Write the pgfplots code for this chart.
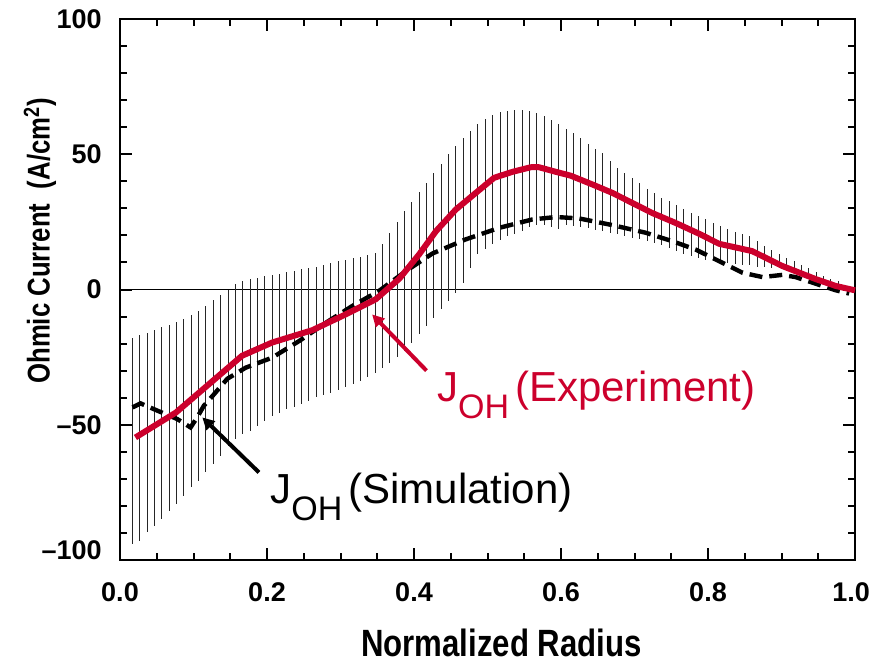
\documentclass[border=0pt]{standalone}
\usepackage{pgfplots}
\pgfplotsset{compat=1.18}
\usepackage{pgfplotstable}
\usetikzlibrary{arrows.meta}
\usepackage{fontspec}
\setmainfont{Liberation Sans}
\newfontfamily\condfont[FakeStretch=0.82]{Liberation Sans}
\definecolor{expred}{RGB}{204,0,44}

\pgfplotstableread{
x lo hi
0.017 -94 -18
0.027 -92.8 -17
0.037 -89.7 -16
0.047 -87.3 -15
0.057 -84.8 -14
0.067 -81.7 -13
0.077 -79.3 -12
0.087 -76.2 -11
0.097 -73.1 -9.5
0.107 -70.7 -8
0.117 -67.6 -6
0.127 -64.5 -4
0.137 -61.4 -2
0.147 -57.7 0
0.157 -55.3 2
0.167 -53.4 3
0.177 -52.2 3.8
0.187 -50.4 4.4
0.197 -48.5 4.9
0.207 -46.7 5.3
0.217 -45.5 5.8
0.227 -44.3 6.4
0.237 -43.3 6.9
0.247 -42.4 7.4
0.257 -41.1 7.9
0.267 -39.9 8.4
0.277 -39 9
0.287 -38.1 9.8
0.297 -37.2 10.5
0.307 -36.2 11
0.317 -35 11.6
0.327 -33.8 12.2
0.337 -32.3 12.8
0.347 -30.7 13.5
0.357 -29 17
0.367 -27 21
0.377 -25 25
0.387 -22.7 29
0.397 -19.6 32.5
0.407 -16.5 36
0.417 -13.4 39.5
0.427 -10.4 43
0.437 -7.3 46.5
0.447 -4.2 50
0.457 -1.2 53
0.467 2.5 56
0.477 8 58.5
0.487 13 61
0.497 15 63
0.507 16.8 64.6
0.517 18.3 65.5
0.527 19.7 66
0.537 20.7 66.5
0.547 21.6 66.3
0.557 23 66
0.567 24 65.2
0.577 24 64.3
0.587 23 62.8
0.597 22.3 61
0.607 23.8 59.5
0.617 23.6 57.9
0.627 23.2 56
0.637 22.7 53.8
0.647 22.1 52
0.657 21.5 50.5
0.667 21 47.5
0.677 20.4 45
0.687 19.8 43
0.697 19.2 41.3
0.707 18.6 39.3
0.717 18 37.3
0.727 17.3 35.7
0.737 16.4 33.9
0.747 15.3 32.7
0.757 14.4 31.2
0.767 13.3 29.6
0.777 12.3 28.3
0.787 11.5 27
0.797 11 25.9
0.807 10.5 24.7
0.817 10 23.4
0.827 9.7 22.2
0.837 9.4 21.3
0.847 9.2 20.5
0.857 9 19.7
0.867 8.5 17.8
0.877 8.2 16
0.887 8 14.5
0.897 7.8 13
0.907 7.4 11.8
0.917 7 10.5
0.927 6.2 9
0.937 5.5 7.8
0.947 4.6 6.4
0.957 3.6 5
0.967 2.6 4
0.977 1.8 3.1
}\errtab

\pgfplotstableread{
x y
0.021 -54.7
0.076 -45.5
0.121 -35
0.166 -24.5
0.207 -19.6
0.262 -15
0.307 -9.2
0.348 -3.6
0.380 4
0.407 13
0.430 21.6
0.457 29.6
0.484 35.7
0.509 41.3
0.534 43.5
0.559 45.2
0.570 45.2
0.593 43.5
0.613 42.1
0.643 38.8
0.670 35.7
0.697 32
0.724 28.3
0.756 24.6
0.788 20.6
0.815 16.9
0.860 14.2
0.901 8.7
0.947 3.8
0.974 1.3
1.000 -0.3
}\exptab

\pgfplotstableread{
x y
0.017 -43.6
0.028 -42.1
0.051 -44.8
0.078 -47.9
0.096 -51
0.105 -47.3
0.114 -43
0.128 -38.7
0.146 -33
0.171 -28.9
0.207 -25.2
0.244 -19
0.280 -12.3
0.316 -6.1
0.352 -0.6
0.389 6.8
0.425 13.3
0.470 18.5
0.516 22.8
0.561 25.9
0.593 26.8
0.624 26.3
0.670 23.8
0.715 21
0.751 17.9
0.783 14.8
0.815 10.5
0.847 6.2
0.874 4.6
0.901 5.4
0.919 4.6
0.947 2.1
0.974 -0.3
0.992 -1.5
}\simtab

\begin{document}
\begin{tikzpicture}
\begin{axis}[name=ax,
  scale only axis, width=367.5pt, height=270.5pt,
  xmin=0, xmax=1, ymin=-100, ymax=100,
  axis line style={line width=1.4pt},
  tick style={line width=1pt, black},
  major tick length=6pt, minor tick length=3.5pt,
  tick align=inside,
  xtick={0,0.2,0.4,0.6,0.8,1.0},
  xticklabels={0.0,0.2,0.4,0.6,0.8,\hspace*{-4pt}1.0},
  minor x tick num=3,
  ytick={-100,-50,0,50,100},
  yticklabels={\raisebox{10pt}{–100},–50,0,50,\raisebox{-3pt}{100}},
  minor y tick num=4,
  xticklabel style={font=\fontsize{13.5}{13.5}\selectfont\bfseries, anchor=base, inner sep=0pt, yshift=-20.5pt},
  yticklabel style={font=\fontsize{13.5}{13.5}\selectfont\bfseries, anchor=east, inner sep=0pt, xshift=-9pt},
  xlabel={Normalized Radius},
  xlabel style={font=\condfont\fontsize{19}{19}\selectfont\bfseries, at={(axis description cs:0.519,-0.179)}, anchor=base, inner sep=0pt},
  ylabel={Ohmic Current\ \ (A/cm\textsuperscript{2})},
  ylabel style={font=\condfont\fontsize{15.7}{15.7}\selectfont\bfseries, at={(axis description cs:-0.109,0.59)}, anchor=center, inner sep=0pt},
  clip=false,
]
\draw[line width=0.5pt, black] (axis cs:0,0) -- (axis cs:1,0);
\addplot[draw=none, no markers, forget plot,
  error bars/.cd, y dir=both, y explicit, error mark=none,
  error bar style={draw=black!85, solid, line width=0.5pt}]
  table[x=x, y expr={(\thisrow{lo}+\thisrow{hi})/2}, y error expr={(\thisrow{hi}-\thisrow{lo})/2}] {\errtab};
\addplot[black, line width=2.2pt, dash pattern=on 6.5pt off 3.5pt, mark=none] table[x=x,y=y] {\simtab};
\addplot[expred, line width=3pt, mark=none, line join=round] table[x=x,y=y] {\exptab};
\draw[expred, line width=2pt, -{Triangle[length=6pt,width=6pt]}] (axis cs:0.417,-30) -- (axis cs:0.343,-9.2);
\draw[black, line width=2pt, -{Triangle[length=6pt,width=6pt]}] (axis cs:0.189,-67.6) -- (axis cs:0.112,-47.3);
\node[anchor=base west, inner sep=0pt, text=expred, font=\fontsize{21}{21}\selectfont] at (axis cs:0.431,-41.3)
  {J\raisebox{-8.8pt}{\fontsize{17}{17}\selectfont OH}\hspace{3pt}(Experiment)};
\node[anchor=base west, inner sep=0pt, text=black, font=\fontsize{21}{21}\selectfont] at (axis cs:0.204,-79)
  {J\raisebox{-8.8pt}{\fontsize{17}{17}\selectfont OH}\hspace{3pt}(Simulation)};
\end{axis}
\pgfresetboundingbox
\path ([xshift=-60pt,yshift=-52.5pt]ax.south west) rectangle ([xshift=7.5pt,yshift=9.5pt]ax.north east);
\end{tikzpicture}
\end{document}
